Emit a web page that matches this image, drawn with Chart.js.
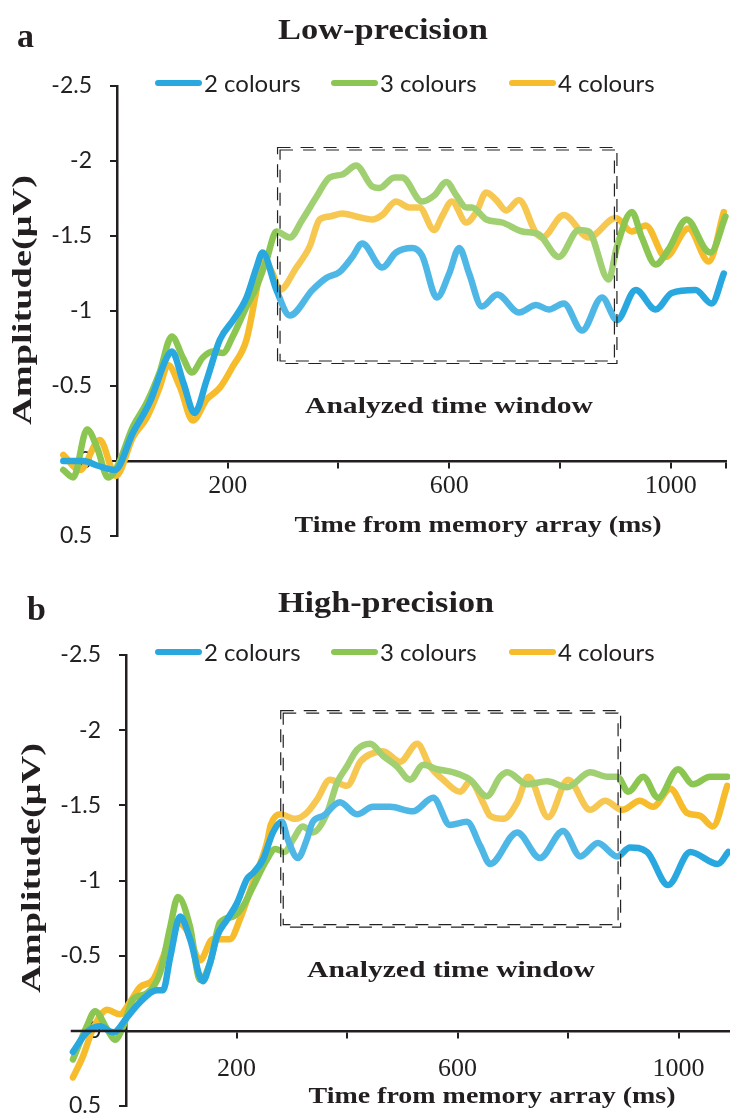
<!DOCTYPE html>
<html>
<head>
<meta charset="utf-8">
<script src="https://cdn.jsdelivr.net/npm/chart.js@4.4.1/dist/chart.umd.min.js"></script>
<style>
  html, body { margin: 0; padding: 0; background: #fff; }
  body { width: 730px; height: 1113px; overflow: hidden; position: relative; }
  canvas { position: absolute; left: 0; }
  #lowChart { top: 0; }
  #highChart { top: 570px; }
</style>
</head>
<body>
<canvas id="lowChart" width="730" height="570"></canvas>
<canvas id="highChart" width="730" height="580"></canvas>
<script>
const seriesLabels = ['2 colours', '3 colours', '4 colours'];
const seriesColors = ['#29a8e0', '#8cc652', '#f6bc2b'];

// Low-precision condition, time (ms) vs amplitude (µV)
const lowTime2 = [-97, -60, -36, -4, 29, 59, 90, 99, 120, 140, 162, 186, 210, 234, 252, 263, 288, 312, 353, 378, 402, 425, 443, 479, 504, 533, 551, 578, 600, 618, 636, 659, 687, 726, 757, 780, 807, 840, 876, 903, 937, 973, 1002, 1045, 1074, 1096];
const lowAmp2 = [0.0, 0.0, 0.03, 0.06, -0.19, -0.39, -0.69, -0.73, -0.52, -0.32, -0.54, -0.81, -0.94, -1.09, -1.29, -1.39, -1.14, -0.97, -1.14, -1.22, -1.26, -1.36, -1.45, -1.29, -1.39, -1.42, -1.37, -1.09, -1.25, -1.42, -1.25, -1.03, -1.11, -0.99, -1.04, -1.01, -1.05, -0.87, -1.09, -0.94, -1.14, -1.01, -1.12, -1.14, -1.05, -1.25];

const lowTime3 = [-97, -79, -54, -36, -16, 0, 29, 54, 77, 99, 119, 135, 155, 173, 191, 209, 234, 252, 270, 288, 312, 335, 360, 384, 407, 432, 461, 474, 501, 515, 551, 573, 595, 613, 631, 641, 667, 696, 732, 762, 798, 834, 852, 888, 903, 930, 948, 973, 996, 1029, 1063, 1072, 1099];
const lowAmp3 = [0.06, 0.11, -0.21, -0.09, 0.11, 0.04, -0.23, -0.39, -0.59, -0.83, -0.69, -0.59, -0.69, -0.73, -0.72, -0.83, -1.03, -1.16, -1.34, -1.53, -1.49, -1.61, -1.76, -1.89, -1.91, -1.97, -1.83, -1.82, -1.89, -1.89, -1.73, -1.77, -1.86, -1.77, -1.69, -1.69, -1.61, -1.59, -1.53, -1.51, -1.36, -1.54, -1.53, -1.21, -1.43, -1.66, -1.49, -1.31, -1.41, -1.61, -1.41, -1.39, -1.63];

const lowTime4 = [-97, -67, -31, -2, 29, 54, 77, 92, 114, 137, 162, 186, 209, 234, 252, 263, 281, 294, 324, 348, 366, 384, 407, 432, 461, 479, 504, 528, 546, 573, 587, 605, 631, 649, 667, 685, 703, 726, 757, 768, 807, 852, 901, 930, 955, 991, 1032, 1069, 1096];
const lowAmp4 = [-0.04, 0.06, -0.14, 0.10, -0.16, -0.29, -0.49, -0.64, -0.49, -0.27, -0.41, -0.49, -0.63, -0.81, -1.14, -1.35, -1.25, -1.14, -1.29, -1.43, -1.61, -1.63, -1.65, -1.63, -1.61, -1.64, -1.73, -1.69, -1.69, -1.54, -1.63, -1.73, -1.59, -1.66, -1.79, -1.74, -1.67, -1.74, -1.52, -1.49, -1.64, -1.49, -1.62, -1.53, -1.57, -1.36, -1.55, -1.33, -1.66];

// High-precision condition
const highTime2 = [-96, -71, -47, -23, 2, 25, 56, 67, 80, 98, 116, 139, 152, 165, 183, 201, 219, 230, 248, 266, 282, 293, 311, 327, 338, 357, 387, 418, 447, 478, 519, 556, 586, 617, 641, 659, 708, 749, 791, 822, 854, 889, 912, 943, 981, 1021, 1071, 1090];
const highAmp2 = [0.14, 0.01, -0.03, 0.01, -0.09, -0.19, -0.27, -0.27, -0.49, -0.76, -0.61, -0.33, -0.45, -0.63, -0.74, -0.85, -1.01, -1.05, -1.14, -1.32, -1.39, -1.27, -1.15, -1.27, -1.39, -1.43, -1.52, -1.44, -1.49, -1.49, -1.46, -1.55, -1.37, -1.39, -1.23, -1.11, -1.32, -1.15, -1.33, -1.16, -1.25, -1.16, -1.22, -1.19, -0.97, -1.19, -1.11, -1.19];

const highTime3 = [-96, -71, -56, -34, -20, -5, 13, 38, 62, 80, 94, 116, 134, 152, 170, 194, 212, 230, 255, 270, 287, 302, 320, 338, 364, 382, 400, 418, 442, 465, 490, 514, 538, 563, 592, 623, 653, 677, 690, 726, 762, 798, 840, 871, 889, 909, 936, 963, 999, 1026, 1057, 1088];
const highAmp3 = [0.19, -0.03, -0.13, -0.01, 0.06, -0.03, -0.21, -0.25, -0.39, -0.69, -0.89, -0.69, -0.34, -0.45, -0.72, -0.76, -0.83, -0.96, -1.14, -1.21, -1.19, -1.27, -1.36, -1.32, -1.45, -1.65, -1.76, -1.87, -1.91, -1.83, -1.76, -1.67, -1.77, -1.74, -1.72, -1.67, -1.56, -1.69, -1.72, -1.64, -1.66, -1.62, -1.72, -1.69, -1.69, -1.59, -1.69, -1.55, -1.74, -1.64, -1.69, -1.69];

const highTime4 = [-96, -78, -60, -34, -11, 7, 25, 49, 67, 92, 110, 134, 157, 188, 206, 230, 255, 262, 279, 306, 327, 346, 369, 400, 424, 442, 465, 496, 527, 550, 574, 605, 623, 646, 659, 683, 708, 728, 764, 800, 840, 867, 898, 930, 954, 985, 1015, 1039, 1062, 1088];
const highAmp4 = [0.31, 0.17, -0.01, -0.14, -0.11, -0.19, -0.29, -0.34, -0.49, -0.72, -0.67, -0.47, -0.61, -0.61, -0.74, -0.99, -1.25, -1.37, -1.44, -1.41, -1.45, -1.54, -1.67, -1.63, -1.79, -1.84, -1.86, -1.79, -1.91, -1.76, -1.67, -1.59, -1.66, -1.52, -1.43, -1.41, -1.52, -1.69, -1.42, -1.67, -1.47, -1.53, -1.47, -1.53, -1.49, -1.61, -1.45, -1.43, -1.36, -1.63];

// analysed window: start ms, end ms, top µV, bottom µV
const lowWindow = [290, 903, -2.09, -0.65];
const highWindow = [280, 895, -2.13, -0.69];

const xTicks = [0, 200, 400, 600, 800, 1000, 1100];
const xTickLabels = [200, 600, 1000];

const INK = '#231f20';
const SERIF = '"Liberation Serif", "Times New Roman", serif';
Chart.defaults.font.family = 'Lato, sans-serif';
Chart.defaults.color = INK;

function pairs(times, amps) {
    return times.map((t, i) => ({ x: t, y: amps[i] }));
}

function makeDatasets(groups) {
    return groups.map((g, i) => ({
        label: seriesLabels[i],
        data: pairs(g[0], g[1]),
        borderColor: seriesColors[i],
        backgroundColor: seriesColors[i],
        borderWidth: 6.5,
        pointRadius: 0,
        cubicInterpolationMode: 'monotone',
        borderCapStyle: 'round',
        borderJoinStyle: 'round',
        clip: false
    }));
}

// bold serif text squeezed/stretched to a given width (the original face is wider than Times)
function wideText(ctx, text, x, y, size, width) {
    ctx.font = 'bold ' + size + 'px ' + SERIF;
    const k = width / ctx.measureText(text).width;
    ctx.save();
    ctx.translate(x, y);
    ctx.scale(k, 1);
    ctx.fillText(text, 0, 0);
    ctx.restore();
}

// titles, legend, window box and axis names drawn on top of the chart
const decor = {
    id: 'decor',
    afterDatasetsDraw(chart, args, o) {
        const { x, y } = chart.scales;
        const ctx = chart.ctx;
        const [t0, t1, v0, v1] = o.window;
        const l = x.getPixelForValue(t0), r = x.getPixelForValue(t1);
        const t = y.getPixelForValue(v0), b = y.getPixelForValue(v1);
        ctx.save();
        ctx.fillStyle = 'rgba(255,255,255,0.18)';
        ctx.fillRect(l, t, r - l, b - t);
        ctx.strokeStyle = '#222';
        ctx.lineWidth = 1.2;
        ctx.setLineDash([13, 10]);
        [0, 2.5].forEach(d => ctx.strokeRect(l + d, t + d, r - l - 2 * d, b - t - 2 * d));
        ctx.restore();
    },
    afterDraw(chart, args, o) {
        const ctx = chart.ctx;
        const { x, y } = chart.scales;
        ctx.save();
        ctx.fillStyle = INK;

        // x axis line carried on to the left of the y axis
        if (o.axisFrom !== undefined) {
            const yy = Math.round(y.getPixelForValue(0));
            ctx.strokeStyle = INK;
            ctx.lineWidth = 2.5;
            ctx.beginPath();
            ctx.moveTo(x.getPixelForValue(o.axisFrom), yy);
            ctx.lineTo(x.getPixelForValue(0), yy);
            ctx.stroke();
        }

        ctx.textBaseline = 'alphabetic';
        ctx.textAlign = 'left';
        ctx.font = 'bold 34px ' + SERIF;
        ctx.fillText(o.letter, o.letterX, o.letterY);

        ctx.textAlign = 'center';
        wideText(ctx, o.title, o.titleX, o.titleY, 30, o.titleW);
        wideText(ctx, 'Time from memory array (ms)', o.xTitleX, o.xTitleY, 24, 367);
        wideText(ctx, 'Analyzed time window', o.noteX, o.noteY, 24, 288);

        ctx.save();
        ctx.translate(o.yTitleX, o.yTitleY);
        ctx.rotate(-Math.PI / 2);
        wideText(ctx, 'Amplitude(\u03bcV)', 0, 0, 27, 250);
        ctx.restore();

        // legend row
        const starts = [155, 331, 509];
        ctx.font = '24px Lato';
        ctx.textAlign = 'left';
        ctx.textBaseline = 'middle';
        ctx.lineCap = 'round';
        ctx.lineWidth = 6;
        chart.data.datasets.forEach((ds, i) => {
            const sx = starts[i];
            ctx.strokeStyle = ds.borderColor;
            ctx.beginPath();
            ctx.moveTo(sx + 3, o.legendY);
            ctx.lineTo(sx + 44, o.legendY);
            ctx.stroke();
            ctx.fillText(ds.label, sx + 49, o.legendY + 1);
        });
        ctx.restore();
    }
};

function makeChart(id, groups, cfg) {
    return new Chart(document.getElementById(id), {
        type: 'line',
        data: { datasets: makeDatasets(groups) },
        plugins: [decor],
        options: {
            responsive: false,
            animation: false,
            layout: { padding: cfg.padding },
            plugins: {
                legend: { display: false },
                tooltip: { enabled: false },
                decor: cfg.decor
            },
            scales: {
                x: {
                    type: 'linear',
                    bounds: 'data',
                    position: { y: 0 },
                    // range set here (not min/max) so the pre-stimulus points left of the y axis still get drawn
                    afterDataLimits: s => { s.min = 0; s.max = cfg.xMax; },
                    afterBuildTicks: s => {
                        s.min = 0;
                        s.max = cfg.xMax;
                        s.ticks = xTicks.filter(v => v <= cfg.xMax).map(v => ({ value: v }));
                    },
                    ticks: {
                        autoSkip: false,
                        maxRotation: 0,
                        padding: cfg.xPad,
                        font: { family: SERIF, size: 26 },
                        callback: v => xTickLabels.includes(v) ? String(v) : ''
                    },
                    grid: { drawOnChartArea: false, drawTicks: true, tickLength: 6, color: INK, lineWidth: 2 },
                    border: { display: true, color: INK, width: 2.5 }
                },
                y: {
                    type: 'linear',
                    position: 'left',
                    reverse: true,
                    min: -2.5,
                    max: 0.5,
                    afterFit: s => { s.width = cfg.yWidth; },
                    ticks: {
                        stepSize: 0.5,
                        padding: 18,
                        font: { family: 'Lato', size: 23 },
                        callback: v => String(v)
                    },
                    grid: { drawOnChartArea: false, drawTicks: true, tickLength: 7, color: INK, lineWidth: 2 },
                    border: { display: true, color: INK, width: 2.5 }
                }
            }
        }
    });
}

makeChart('lowChart', [[lowTime2, lowAmp2], [lowTime3, lowAmp3], [lowTime4, lowAmp4]], {
    padding: { top: 86, bottom: 34, left: 0, right: 3 },
    xMax: 1100, yWidth: 117, xPad: 4,
    decor: {
        window: lowWindow, letter: 'a', letterX: 17, letterY: 47,
        title: 'Low-precision', titleX: 383, titleY: 39, titleW: 210,
        legendY: 83, xTitleX: 478, xTitleY: 532, noteX: 449, noteY: 413, yTitleX: 31, yTitleY: 300
    }
});

makeChart('highChart', [[highTime2, highAmp2], [highTime3, highAmp3], [highTime4, highAmp4]], {
    padding: { top: 85, bottom: 44, left: 0, right: 0 },
    xMax: 1093, yWidth: 126, xPad: 17,
    decor: {
        window: highWindow, letter: 'b', letterX: 27, letterY: 50,
        title: 'High-precision', titleX: 386, titleY: 42, titleW: 216,
        legendY: 82, xTitleX: 492, xTitleY: 533, noteX: 451, noteY: 407, yTitleX: 40, yTitleY: 298,
        axisFrom: -100
    }
});
</script>
</body>
</html>
